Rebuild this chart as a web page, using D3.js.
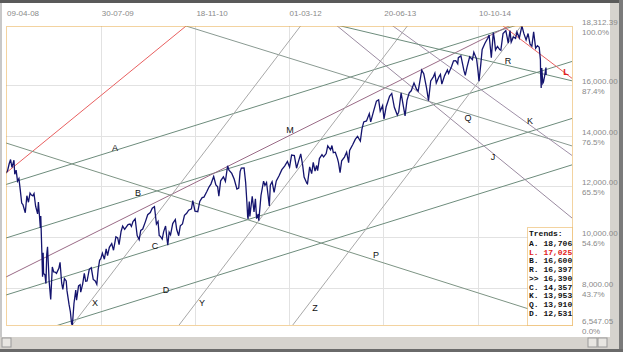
<!DOCTYPE html>
<html>
<head>
<meta charset="utf-8">
<script src="https://cdn.jsdelivr.net/npm/d3@7/dist/d3.min.js"></script>
<style>
  body { margin: 0; background: #fff; }
  svg { display: block; }
</style>
</head>
<body>
<script>
// DJIA closes
var seriesDates = [
  "2008-04-09","2008-04-17","2008-04-25","2008-05-02","2008-05-09","2008-05-19","2008-05-23","2008-05-30","2008-06-06","2008-06-13","2008-06-20","2008-06-27","2008-07-03","2008-07-15","2008-07-23","2008-07-31","2008-08-08","2008-08-15","2008-08-22","2008-08-28","2008-09-05","2008-09-15","2008-09-19","2008-09-29","2008-10-01","2008-10-10","2008-10-13","2008-10-15","2008-10-22","2008-10-27","2008-10-31","2008-11-04","2008-11-12","2008-11-20","2008-11-28","2008-12-05","2008-12-12","2008-12-19","2008-12-31",
  "2009-01-06","2009-01-14","2009-01-20","2009-01-28","2009-02-06","2009-02-10","2009-02-20","2009-02-27","2009-03-05","2009-03-09","2009-03-17","2009-03-26","2009-03-30","2009-04-09","2009-04-17","2009-04-20","2009-04-30","2009-05-08","2009-05-15","2009-05-22","2009-06-02","2009-06-12","2009-06-22","2009-07-02","2009-07-10","2009-07-17","2009-07-24","2009-07-30","2009-08-07","2009-08-17","2009-08-26","2009-09-02","2009-09-11","2009-09-23","2009-10-02","2009-10-14","2009-10-23","2009-10-30","2009-11-09","2009-11-17","2009-11-27","2009-12-04","2009-12-14","2009-12-24","2009-12-31",
  "2010-01-08","2010-01-19","2010-01-29","2010-02-08","2010-02-16","2010-02-26","2010-03-12","2010-03-23","2010-04-05","2010-04-15","2010-04-26","2010-05-06","2010-05-14","2010-05-20","2010-05-25","2010-06-04","2010-06-11","2010-06-21","2010-06-29","2010-07-02","2010-07-09","2010-07-16","2010-07-27","2010-08-09","2010-08-16","2010-08-26","2010-09-03","2010-09-14","2010-09-24","2010-10-05","2010-10-15","2010-10-29","2010-11-05","2010-11-16","2010-11-30","2010-12-10","2010-12-22","2010-12-31",
  "2011-01-14","2011-01-26","2011-02-04","2011-02-18","2011-03-01","2011-03-10","2011-03-16","2011-03-25","2011-04-08","2011-04-18","2011-04-29","2011-05-06","2011-05-20","2011-06-01","2011-06-15","2011-06-24","2011-07-01","2011-07-07","2011-07-21","2011-07-29","2011-08-04","2011-08-08","2011-08-10","2011-08-16","2011-08-19","2011-08-31","2011-09-09","2011-09-16","2011-09-22","2011-09-30","2011-10-03","2011-10-14","2011-10-27","2011-11-03","2011-11-11","2011-11-25","2011-11-30","2011-12-09","2011-12-19","2011-12-30",
  "2012-01-13","2012-01-27","2012-02-10","2012-02-24","2012-03-06","2012-03-16","2012-03-30","2012-04-10","2012-04-19","2012-05-01","2012-05-11","2012-05-18","2012-06-01","2012-06-04","2012-06-15","2012-06-25","2012-07-03","2012-07-12","2012-07-20","2012-07-25","2012-08-03","2012-08-16","2012-08-24","2012-09-06","2012-09-14","2012-09-28","2012-10-05","2012-10-12","2012-10-22","2012-11-02","2012-11-07","2012-11-15","2012-11-23","2012-12-07","2012-12-18","2012-12-28",
  "2013-01-02","2013-01-18","2013-01-31","2013-02-11","2013-02-25","2013-03-05","2013-03-14","2013-03-28","2013-04-11","2013-04-18","2013-05-03","2013-05-17","2013-05-28","2013-06-05","2013-06-17","2013-06-24","2013-07-05","2013-07-22","2013-08-02","2013-08-15","2013-08-30","2013-09-06","2013-09-18","2013-09-30","2013-10-08","2013-10-18","2013-10-29","2013-11-08","2013-11-22","2013-12-05","2013-12-13","2013-12-31",
  "2014-01-10","2014-01-24","2014-02-03","2014-02-14","2014-02-28","2014-03-07","2014-03-14","2014-03-28","2014-04-04","2014-04-11","2014-04-25","2014-05-09","2014-05-15","2014-05-30","2014-06-09","2014-06-20","2014-06-30","2014-07-03","2014-07-16","2014-07-31","2014-08-07","2014-08-15","2014-08-29","2014-09-12","2014-09-19","2014-10-03","2014-10-10","2014-10-15","2014-10-24","2014-10-31","2014-11-14","2014-11-28","2014-12-05","2014-12-16","2014-12-26","2014-12-31",
  "2015-01-06","2015-01-16","2015-01-27","2015-02-02","2015-02-13","2015-02-27","2015-03-06","2015-03-11","2015-03-20","2015-03-26","2015-04-06","2015-04-17","2015-04-24","2015-05-06","2015-05-19","2015-05-29","2015-06-09","2015-06-19","2015-06-29","2015-07-08","2015-07-17","2015-07-27","2015-08-05","2015-08-14","2015-08-20","2015-08-21","2015-08-24","2015-08-27","2015-09-01","2015-09-04","2015-09-10","2015-09-17","2015-09-18"
];
var seriesValues = [
  12527,12620,12891,13058,12745,13028,12480,12638,12209,12307,11843,11346,11288,10963,11632,11378,11734,11659,11628,11715,11220,10917,11388,10365,10831,8451,9387,8578,8519,8176,9325,9625,8283,7552,8829,8635,8629,8579,8776,
  9015,8200,7950,8375,8280,7888,7366,7062,6595,6547,7395,7925,7523,8083,8131,7842,8168,8575,8268,8277,8740,8799,8340,8280,8146,8743,9093,9154,9370,9135,9543,9280,9605,9748,9488,10015,9972,9713,10226,10437,10310,10388,10501,10520,10428,
  10618,10725,10067,9908,10268,10325,10625,10888,10974,11144,11205,10520,10620,10068,10043,9931,10211,10442,9870,9686,10198,10097,10537,10698,10303,10060,10448,10526,10860,10944,11062,11118,11444,11023,11006,11410,11559,11578,
  11787,11985,12092,12391,12058,11984,11613,12220,12380,12202,12811,12638,12512,12290,11897,11934,12582,12719,12724,12143,11384,10810,10720,11405,10817,11614,10992,11509,10733,10913,10655,11644,12209,12044,12153,11231,12046,12184,11766,12218,
  12422,12660,12801,12983,12759,13233,13212,12716,12964,13279,12821,12369,12119,12101,12767,12503,12943,12605,12823,12617,13096,13250,13158,13292,13594,13437,13610,13328,13345,13093,12933,12542,13010,13155,13350,12938,
  13412,13650,13861,13971,13784,14254,14539,14579,14865,14537,14974,15354,15409,14960,15179,14660,15136,15545,15658,15112,14810,14922,15677,15130,14776,15400,15680,15762,16065,15821,15755,16577,
  16437,15879,15373,16154,16322,16453,16066,16323,16412,16027,16361,16584,16447,16717,16943,16948,16827,17068,17138,16563,16368,16662,17098,16988,17280,17009,16544,16142,16805,17391,17634,17828,17959,17068,18053,17823,
  17371,17511,17387,17361,18019,18133,17856,17635,18128,17678,17880,17826,18080,17841,18312,18011,17765,18016,17597,17516,18086,17440,17540,17477,16990,16460,15871,16655,16059,16102,16330,16674,16384
];

var tickDates = ["2008-04-09","2009-07-30","2010-11-18","2012-03-01","2013-06-20","2014-10-10"];
var tickLabels = ["09-04-08","30-07-09","18-11-10","01-03-12","20-06-13","10-10-14"];
var gridValues = [16000, 14000, 12000, 10000, 8000];
var axisValues = [18312.39, 16000, 14000, 12000, 10000, 8000, 6547.05];
var axisPercents = ["100.0%","87.4%","76.5%","65.5%","54.6%","43.7%","0.0%"];

// trend table
var trendNames = ["A.","L.","B.","R.",">>","C.","K.","Q.","D."];
var trendValues = [18706, 17025, 16600, 16397, 16390, 14357, 13953, 13910, 12531];

// trend lines: two anchor points each (date, value)
var lineNames  = ["A","B","C","D","M","red","Q","K","P","X","Y","Z","L","R","J"];
var lineDate1  = ["2008-04-09","2008-04-09","2008-04-09","2008-04-09","2008-04-09","2008-04-09","2010-10-02","2013-08-08","2008-04-09","2009-03-09","2010-08-28","2012-03-22","2015-02-13","2013-09-12","2012-11-01"];
var lineValue1 = [12076, 9970, 7727, 5901, 8436, 12527, 18312, 18312, 13709, 6547, 6547, 6547, 18312, 17762, 18312];
var lineDate2  = ["2015-09-18","2015-09-18","2015-09-18","2015-09-18","2015-03-15","2010-10-02","2015-09-18","2015-09-18","2016-01-26","2012-04-30","2011-10-03","2014-10-15","2015-09-18","2015-09-18","2016-01-26"];
var lineValue2 = [18706, 16600, 14357, 12531, 18312, 18312, 13910, 13953, 6637, 18312, 10655, 16142, 17025, 16397, 10757];

// letter positions (date, value)
var labelNames  = ["A","B","C","D","M","P","Q","R","K","J","X","Y","Z","L"];
var labelDates  = ["2009-10-09","2010-02-02","2010-04-29","2010-06-23","2012-03-08","2013-05-15","2014-08-21","2015-03-10","2015-06-29","2014-12-24","2009-07-01","2010-12-21","2012-07-12","2015-12-27"];
var labelValues = [13512, 11741, 9656, 7924, 14220, 9302, 14692, 16935, 14574, 13158, 7413, 7413, 7216, 16503];

var lineColor = {A:"#6d8c7c", B:"#6d8c7c", C:"#6d8c7c", D:"#6d8c7c", M:"#9a6a86", red:"#e86060", Q:"#8a9a92", K:"#a090a8", P:"#7d9484", X:"#a8a8a8", Y:"#a8a8a8", Z:"#a8a8a8", L:"#e86060", R:"#6d8c7c", J:"#9a8aa0"};

var W = 623, H = 352;
var pL = 6, pR = 572, pT = 26, pB = 325;
var parse = d3.timeParse("%Y-%m-%d");

var svg = d3.select("body").append("svg").attr("width", W).attr("height", H)
  .style("font-family", "'Liberation Sans', Arial, sans-serif");

// window chrome
svg.append("rect").attr("x", 0).attr("y", 0).attr("width", W).attr("height", H).attr("fill", "#fff");
svg.append("rect").attr("x", 0).attr("y", 0).attr("width", W).attr("height", 3).attr("fill", "#5a5a5a");
svg.append("rect").attr("x", 0).attr("y", 3).attr("width", 2).attr("height", H).attr("fill", "#c8c8c8");
svg.append("rect").attr("x", 610).attr("y", 3).attr("width", 9).attr("height", H).attr("fill", "#d6d3ce");
svg.append("rect").attr("x", 619).attr("y", 0).attr("width", 4).attr("height", H).attr("fill", "#7a7a7a");
svg.append("rect").attr("x", 0).attr("y", 337).attr("width", 619).attr("height", 12).attr("fill", "#d6d3ce");
svg.append("rect").attr("x", 0).attr("y", 349).attr("width", W).attr("height", 3).attr("fill", "#6a6a6a");
svg.append("rect").attr("x", 2).attr("y", 338).attr("width", 9).attr("height", 9).attr("fill", "#e8e6e2").attr("stroke", "#999");
svg.append("rect").attr("x", 588).attr("y", 338).attr("width", 9).attr("height", 9).attr("fill", "#e8e6e2").attr("stroke", "#999");
svg.append("rect").attr("x", 598).attr("y", 338).attr("width", 9).attr("height", 9).attr("fill", "#e8e6e2").attr("stroke", "#999");

var x = d3.scaleTime().domain([parse("2008-04-09"), parse("2016-01-26")]).range([pL, pR]);
var y = d3.scaleLinear().domain([6547.05, 18312.39]).range([pB, pT]);

// grid
svg.append("g").selectAll("line").data(tickDates.slice(1)).join("line")
  .attr("x1", d => Math.round(x(parse(d))) + 0.5).attr("x2", d => Math.round(x(parse(d))) + 0.5)
  .attr("y1", pT).attr("y2", pB)
  .attr("stroke", "#e2e2e2");
svg.append("g").selectAll("line").data(gridValues).join("line")
  .attr("x1", pL).attr("x2", pR)
  .attr("y1", d => Math.round(y(d)) + 0.5).attr("y2", d => Math.round(y(d)) + 0.5)
  .attr("stroke", "#e2e2e2");

// date labels
svg.append("g").selectAll("text").data(tickDates).join("text")
  .attr("x", d => x(parse(d)) + 1).attr("y", 16)
  .attr("font-size", 8).attr("fill", "#8a8a8a")
  .text((d, i) => tickLabels[i]);

// right axis labels
var ax = svg.append("g").selectAll("g").data(axisValues).join("g");
ax.append("text").attr("x", 582).attr("y", d => y(d) - 1)
  .attr("font-size", 8).attr("fill", "#8a8a8a")
  .text(d => d3.format(",.2f")(d));
ax.append("text").attr("x", 582).attr("y", d => y(d) + 9)
  .attr("font-size", 8).attr("fill", "#8a8a8a")
  .text((d, i) => axisPercents[i]);

svg.append("clipPath").attr("id", "plot")
  .append("rect").attr("x", pL).attr("y", pT).attr("width", pR - pL).attr("height", pB - pT);

// trend lines extended across the whole chart
var dom = x.domain();
function valueAt(i, t) {
  var t1 = parse(lineDate1[i]), t2 = parse(lineDate2[i]);
  return lineValue1[i] + (lineValue2[i] - lineValue1[i]) * (t - t1) / (t2 - t1);
}
var lg = svg.append("g").attr("clip-path", "url(#plot)");
lineNames.forEach(function(name, i) {
  var seg = [[dom[0], valueAt(i, dom[0])], [dom[1], valueAt(i, dom[1])]];
  // the red line and L only run between their anchors
  if (name === "red") seg = [[parse(lineDate1[i]), lineValue1[i]], [parse(lineDate2[i]), lineValue2[i]]];
  if (name === "L") seg = [[parse(lineDate1[i]), lineValue1[i]], seg[1]];
  lg.append("line")
    .attr("x1", x(seg[0][0])).attr("y1", y(seg[0][1]))
    .attr("x2", x(seg[1][0])).attr("y2", y(seg[1][1]))
    .attr("stroke", lineColor[name]).attr("stroke-width", 1);
});

// price line
var pts = seriesDates.map((d, i) => [parse(d), seriesValues[i]]);
svg.append("path").datum(pts)
  .attr("clip-path", "url(#plot)")
  .attr("fill", "none").attr("stroke", "#14146e").attr("stroke-width", 1.3)
  .attr("d", d3.line().x(d => x(d[0])).y(d => y(d[1])));

// line letters
svg.append("g").selectAll("text").data(labelNames).join("text")
  .attr("x", (d, i) => x(parse(labelDates[i])))
  .attr("y", (d, i) => y(labelValues[i]))
  .attr("dy", "0.35em")
  .attr("text-anchor", "middle")
  .attr("font-size", 9).attr("font-weight", d => d === "L" ? "bold" : "normal")
  .attr("fill", d => d === "L" ? "#e02020" : "#111")
  .text(d => d);

// plot frame
svg.append("rect").attr("x", pL + 0.5).attr("y", pT + 0.5)
  .attr("width", pR - pL).attr("height", pB - pT)
  .attr("fill", "none").attr("stroke", "#e6a640").attr("stroke-dasharray", "1,1");

// trends box
var bx = 527, by = 227;
svg.append("rect").attr("x", bx + 0.5).attr("y", by + 0.5).attr("width", pR - bx).attr("height", pB - by)
  .attr("fill", "#fff").attr("stroke", "#e6a640").attr("stroke-dasharray", "1,1");
var tb = svg.append("g").style("font-family", "'Liberation Mono', 'Courier New', monospace")
  .attr("font-size", 8).attr("font-weight", "bold");
tb.append("text").attr("x", bx + 2).attr("y", by + 9).attr("fill", "#111").text("Trends:");
tb.selectAll("text.row").data(trendNames).join("text").attr("class", "row")
  .attr("x", bx + 2).attr("y", (d, i) => by + 19 + i * 8.7)
  .attr("fill", d => d === "L." ? "#e02020" : "#111")
  .text((d, i) => d + " " + d3.format(",")(trendValues[i]));
</script>
</body>
</html>
